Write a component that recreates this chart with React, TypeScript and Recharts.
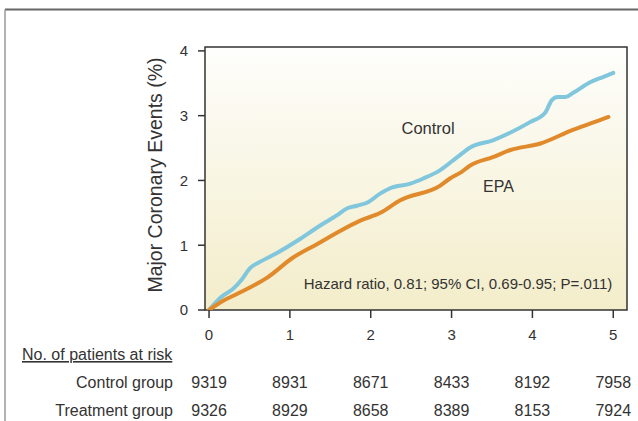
import React from 'react';
import {
  LineChart, Line, XAxis, YAxis, ReferenceArea, ReferenceDot,
} from 'recharts';

// years since randomisation / cumulative event rate (%)
const controlYears = [0, 0.14, 0.3, 0.41, 0.51, 0.61, 0.84, 1.13, 1.37, 1.58, 1.71, 1.83, 1.96, 2.12, 2.24, 2.49, 2.65, 2.86, 3.07, 3.23, 3.51, 3.73, 3.97, 4.16, 4.24, 4.31, 4.41, 4.5, 4.72, 4.88, 5.0];
const controlEvents = [0, 0.19, 0.33, 0.48, 0.65, 0.73, 0.88, 1.1, 1.3, 1.46, 1.57, 1.61, 1.66, 1.8, 1.88, 1.95, 2.03, 2.16, 2.36, 2.51, 2.62, 2.74, 2.9, 3.05, 3.24, 3.29, 3.29, 3.35, 3.52, 3.6, 3.66];

const epaYears = [0, 0.17, 0.35, 0.72, 1.04, 1.34, 1.62, 1.87, 2.12, 2.36, 2.86, 2.98, 3.11, 3.23, 3.51, 3.73, 4.1, 4.5, 4.72, 4.94];
const epaEvents = [0, 0.14, 0.25, 0.5, 0.81, 1.02, 1.22, 1.38, 1.5, 1.69, 1.92, 2.03, 2.12, 2.23, 2.36, 2.47, 2.57, 2.78, 2.88, 2.98];

const xTicks = [0, 1, 2, 3, 4, 5];
const yTicks = [0, 1, 2, 3, 4];

const riskGroups = ['Control group', 'Treatment group'];
const controlAtRisk = [9319, 8931, 8671, 8433, 8192, 7958];
const treatmentAtRisk = [9326, 8929, 8658, 8389, 8153, 7924];

const controlData = controlYears.map((t, i) => ({ t, v: controlEvents[i] }));
const epaData = epaYears.map((t, i) => ({ t, v: epaEvents[i] }));

const FONT = '"Liberation Sans", Arial, Helvetica, sans-serif';
const INK = '#333';

function RiskTick(props: any) {
  const { x, y, payload } = props;
  const i = xTicks.indexOf(payload.value);
  return (
    <g fontFamily={FONT} fill={INK}>
      <text x={x} y={y + 19.5} textAnchor="middle" fontSize={15}>{payload.value}</text>
      <text x={x} y={y + 68} textAnchor="middle" fontSize={16}>{controlAtRisk[i]}</text>
      <text x={x} y={y + 96} textAnchor="middle" fontSize={16}>{treatmentAtRisk[i]}</text>
    </g>
  );
}

export default function App() {
  return (
    <div style={{ position: 'absolute', left: 0, top: 0, width: 638, height: 421, background: '#fff', fontFamily: FONT }}>
      <svg width={638} height={421} style={{ position: 'absolute', left: 0, top: 0 }}>
        <line x1={5} y1={9.5} x2={638} y2={9.5} stroke="#666" strokeWidth={2} />
        <line x1={5} y1={9.5} x2={5} y2={421} stroke="#999" strokeWidth={1.5} />
      </svg>
      <div style={{ position: 'absolute', left: 0, top: 0 }}>
        <LineChart
          width={638}
          height={421}
          margin={{ top: 47, right: 11, bottom: 71, left: 0 }}
        >
          <defs>
            <linearGradient id="plotBg" x1="0" y1="0" x2="0" y2="1">
              <stop offset="0%" stopColor="#fefefc" />
              <stop offset="100%" stopColor="#f3edca" />
            </linearGradient>
          </defs>
          <XAxis
            type="number"
            dataKey="t"
            domain={[-0.05, 5.17]}
            ticks={xTicks}
            allowDataOverflow
            axisLine={false}
            tickLine={{ stroke: INK, strokeWidth: 1.5 }}
            tickSize={8}
            tickMargin={2}
            height={40}
            tick={<RiskTick />}
          />
          <YAxis
            type="number"
            dataKey="v"
            domain={[0, 4.06]}
            ticks={yTicks}
            allowDataOverflow
            axisLine={false}
            tickLine={{ stroke: INK, strokeWidth: 1.5 }}
            tickSize={7}
            tickMargin={10}
            width={205}
            tick={{ fontSize: 15, fill: INK, fontFamily: FONT }}
          />
          <ReferenceArea
            x1={-0.05}
            x2={5.17}
            y1={0}
            y2={4.06}
            fill="url(#plotBg)"
            fillOpacity={1}
            stroke={INK}
            strokeWidth={1.5}
          />
          <Line
            data={controlData}
            dataKey="v"
            type="monotone"
            stroke="#80c6dc"
            strokeWidth={4}
            strokeLinecap="round"
            dot={false}
            isAnimationActive={false}
          />
          <Line
            data={epaData}
            dataKey="v"
            type="monotone"
            stroke="#e08a2b"
            strokeWidth={4}
            strokeLinecap="round"
            dot={false}
            isAnimationActive={false}
          />
          <ReferenceDot x={2.71} y={2.81} r={1} fill="none" stroke="none"
            label={{ value: 'Control', position: 'center', fontSize: 16.5, fill: INK, fontFamily: FONT }} />
          <ReferenceDot x={3.58} y={1.91} r={1} fill="none" stroke="none"
            label={{ value: 'EPA', position: 'center', fontSize: 16, fill: INK, fontFamily: FONT }} />
          <ReferenceDot x={3.08} y={0.4} r={1} fill="none" stroke="none"
            label={{ value: 'Hazard ratio, 0.81; 95% CI, 0.69-0.95; P=.011)', position: 'center', fontSize: 15, fill: INK, fontFamily: FONT }} />
        </LineChart>
      </div>
      <svg width={638} height={421} style={{ position: 'absolute', left: 0, top: 0, pointerEvents: 'none' }}>
        <text
          transform="translate(162,175) rotate(-90)"
          textAnchor="middle"
          fontSize={19.5}
          fill={INK}
          fontFamily={FONT}
        >
          Major Coronary Events (%)
        </text>
        <text x={22} y={360} fontSize={16} fill={INK} fontFamily={FONT} textDecoration="underline">
          No. of patients at risk
        </text>
        {riskGroups.map((g, i) => (
          <text key={g} x={173} y={388 + i * 28} textAnchor="end" fontSize={16} fill={INK} fontFamily={FONT}>
            {g}
          </text>
        ))}
      </svg>
    </div>
  );
}
